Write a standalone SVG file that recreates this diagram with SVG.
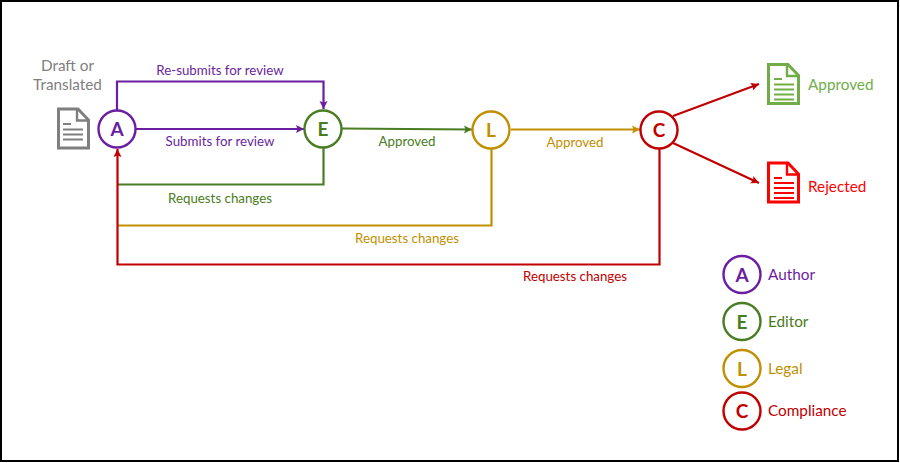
<svg xmlns="http://www.w3.org/2000/svg" width="900" height="463" viewBox="0 0 900 463">
  <style>
    text { font-family: Lato, "Open Sans", sans-serif; font-size: 13.300px; }
    .mid { text-anchor: middle; }
    .big { font-size: 15.300px; }
    .letter { font-size: 19px; font-weight: 700; text-anchor: middle; }
    .doc { fill: none; stroke-width: 3; }
    .rule { stroke-width: 2; }
    .purple { color: #6a1fa0; } .green { color: #4a7c23; } .gold { color: #c09000; } .red { color: #c00000; }
    .purple, .green, .gold, .red { fill: currentColor; }
    .node, .wire { stroke: currentColor; }
    .node { fill: #fff; stroke-width: 2.400; }
    .wire { fill: none; stroke-width: 2.200; }
  </style>
  <defs>
    <marker id="tip-purple" markerUnits="userSpaceOnUse" markerWidth="10" markerHeight="10" refX="9" refY="5" orient="auto"><path d="M1 1L9 5L1 9L2.500 5Z" fill="#6a1fa0"/></marker>
    <marker id="tip-green" markerUnits="userSpaceOnUse" markerWidth="10" markerHeight="10" refX="9" refY="5" orient="auto"><path d="M1 1L9 5L1 9L2.500 5Z" fill="#4a7c23"/></marker>
    <marker id="tip-gold" markerUnits="userSpaceOnUse" markerWidth="10" markerHeight="10" refX="9" refY="5" orient="auto"><path d="M1 1L9 5L1 9L2.500 5Z" fill="#c09000"/></marker>
    <marker id="tip-red" markerUnits="userSpaceOnUse" markerWidth="10" markerHeight="10" refX="9" refY="5" orient="auto"><path d="M1 1L9 5L1 9L2.500 5Z" fill="#c00000"/></marker>
    <g id="page">
      <path class="doc" d="M1.500 1.500H21L31.500 12.500V40.500H1.500Z"/>
      <path d="M20 2V13H31" fill="none" stroke-width="2.400"/>
    </g>
  </defs>

  <rect x="1" y="1" width="897" height="460" fill="#fff" stroke="#000" stroke-width="2"/>

  <g id="connectors">
    <path class="wire purple" marker-end="url(#tip-purple)" d="M117 110V81.500H323.500V109"/>
    <path class="wire purple" marker-end="url(#tip-purple)" d="M136 129H304"/>
    <path class="wire green" d="M323.500 148V184.500H118"/>
    <path class="wire green" marker-end="url(#tip-green)" d="M342 128.500L472 129.500"/>
    <path class="wire gold" d="M491.500 149V225.500H118"/>
    <path class="wire gold" marker-end="url(#tip-gold)" d="M511 129.500H640"/>
    <path class="wire red" marker-end="url(#tip-red)" d="M659.500 149V264.500H117.500V149"/>
    <path class="wire red" marker-end="url(#tip-red)" d="M673 116L759 84"/>
    <path class="wire red" marker-end="url(#tip-red)" d="M673 143L759 183"/>
  </g>

  <g id="connector-labels">
    <text class="mid purple" x="220" y="75">Re-submits for review</text>
    <text class="mid purple" x="220" y="146">Submits for review</text>
    <text class="mid green" x="220" y="203">Requests changes</text>
    <text class="mid green" x="407" y="146">Approved</text>
    <text class="mid gold" x="575" y="147">Approved</text>
    <text class="mid gold" x="407" y="243">Requests changes</text>
    <text class="mid red" x="575" y="281">Requests changes</text>
  </g>

  <g id="source-doc">
    <text class="mid big" x="67.500" y="71" fill="#7f7f7f">Draft or</text>
    <text class="mid big" x="67.500" y="90" fill="#7f7f7f">Translated</text>
    <use href="#page" x="57" y="107.500" stroke="#7f7f7f"/>
    <path class="rule" stroke="#7f7f7f" d="M63 124H71M63 129.500H83M63 134.500H83M63 139.500H83"/>
  </g>

  <g id="node-author"><circle class="node purple" cx="117" cy="129" r="18.500"/><text class="letter purple" x="117" y="136">A</text></g>
  <g id="node-editor"><circle class="node green" cx="323" cy="129" r="18.500"/><text class="letter green" x="323" y="136">E</text></g>
  <g id="node-legal"><circle class="node gold" cx="491" cy="130" r="18.500"/><text class="letter gold" x="491" y="137">L</text></g>
  <g id="node-compliance"><circle class="node red" cx="659" cy="130" r="18.500"/><text class="letter red" x="659" y="137">C</text></g>

  <g id="approved-doc">
    <use href="#page" x="767" y="63" stroke="#70ad47"/>
    <path class="rule" stroke="#70ad47" d="M774 79H782M774 84.500H794M774 89.500H794M774 94.500H794M774 99.500H794"/>
    <text class="big" x="808" y="90" fill="#70ad47">Approved</text>
  </g>
  <g id="rejected-doc">
    <use href="#page" x="767" y="161.500" stroke="#ff0000"/>
    <path class="rule" stroke="#ff0000" d="M774 178H782M774 183H794M774 188H794M774 193H794M774 198H794"/>
    <text class="big" x="808" y="192" fill="#ff0000">Rejected</text>
  </g>

  <g id="legend-author"><circle class="node purple" cx="742" cy="274.500" r="18.500"/><text class="letter purple" x="742" y="281.500">A</text><text class="big purple" x="768" y="280">Author</text></g>
  <g id="legend-editor"><circle class="node green" cx="742" cy="321.500" r="18.500"/><text class="letter green" x="742" y="328.500">E</text><text class="big green" x="768" y="327">Editor</text></g>
  <g id="legend-legal"><circle class="node gold" cx="742" cy="368.500" r="18.500"/><text class="letter gold" x="742" y="375.500">L</text><text class="big gold" x="768" y="374">Legal</text></g>
  <g id="legend-compliance"><circle class="node red" cx="742" cy="411" r="18.500"/><text class="letter red" x="742" y="418">C</text><text class="big red" x="768" y="416">Compliance</text></g>
</svg>
